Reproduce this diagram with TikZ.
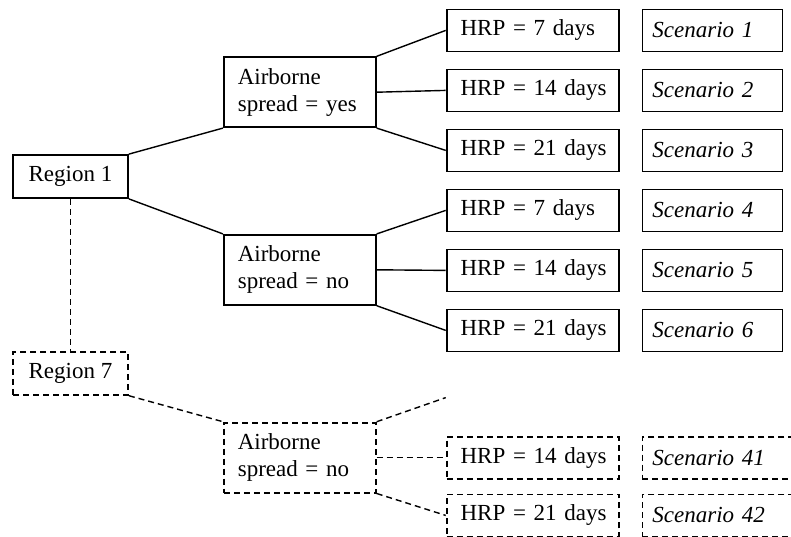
\documentclass[tikz,border=0pt]{standalone}
\usepackage{fontspec}
\setmainfont{Liberation Serif}
\usepackage{tikz}
\usetikzlibrary{positioning}
\tikzstyle{tree box}=[draw,line width=0.9pt,inner ysep=0pt,anchor=center,font=\fontsize{11.5}{13.5}\selectfont]
\tikzstyle{region box}=[tree box,minimum width=57.5pt,minimum height=21.5pt,inner xsep=0pt]
\tikzstyle{spread box}=[tree box,text width=62pt,inner xsep=7pt,minimum height=35pt,align=left]
\tikzstyle{hrp box}=[tree box,text width=72pt,inner xsep=7pt,minimum height=21pt,align=left]
\tikzstyle{scen box}=[tree box,text width=60pt,inner xsep=5pt,minimum height=21pt,align=left,font=\fontsize{11.5}{13.5}\selectfont\itshape]
\tikzstyle{tree edge}=[line width=0.7pt]
\tikzstyle{omitted}=[dash pattern=on 3pt off 2pt]
\newcommand{\branchnode}[3][]{
  \node [#1] (#2) {#3}
}

\begin{document}
\begin{tikzpicture}[node distance=8.1pt]
\useasboundingbox (0,0) rectangle (395.5pt,-268pt);
        \branchnode[region box,at={(35.25pt,-88.25pt)}]{reg1}{Region 1};
        \branchnode[spread box,above right=13pt and 47pt of reg1]{yes1}{Airborne\\spread = yes};
        \branchnode[spread box,below right=17.5pt and 47pt of reg1]{no1}{Airborne\\spread = no};
         \branchnode[hrp box,above right=2pt and 34.5pt of yes1]{h1}{HRP~=~7~days};
         \branchnode[hrp box,below=of h1]{h2}{HRP~=~14~days};
         \branchnode[hrp box,below=of h2]{h3}{HRP~=~21~days};
         \branchnode[hrp box,below=of h3]{h4}{HRP~=~7~days};
         \branchnode[hrp box,below=of h4]{h5}{HRP~=~14~days};
         \branchnode[hrp box,below=of h5]{h6}{HRP~=~21~days};
    \foreach \i in {1,...,6}{
      \branchnode[scen box,right=11pt of h\i]{s\i}{Scenario \i};
    }
      \draw[tree edge] (reg1.north east) -- (yes1.south west);
            \draw[tree edge] (reg1.south east) -- (no1.north west);
                  \draw[tree edge] (yes1.north east) -- (h1.west);
                        \draw[tree edge] (yes1.east) -- (h2.west);
                              \draw[tree edge] (yes1.south east) -- (h3.west);
                  \draw[tree edge] (no1.north east) -- (h4.west);
                        \draw[tree edge] (no1.east) -- (h5.west);
                              \draw[tree edge] (no1.south east) -- (h6.west);

% region 7, only partly drawn
\begin{scope}[tree box/.append style={omitted}]
\branchnode[region box,below=76pt of reg1]{reg7}{Region 7};
\branchnode[spread box,below right=13pt and 47pt of reg7]{no7}{Airborne\\spread = no};
\branchnode[hrp box,right=34.5pt of no7]{h41}{HRP~=~14~days};
\branchnode[hrp box,below=7pt of h41]{h42}{HRP~=~21~days};
\branchnode[scen box,text width=80pt,right=11pt of h41]{s41}{Scenario 41};
\branchnode[scen box,text width=80pt,right=11pt of h42]{s42}{Scenario 42};
\coordinate (up7) at ([yshift=30pt]h41.west);
\end{scope}
      \draw[tree edge,omitted] (reg1.south) -- (reg7.north);
      \draw[tree edge,omitted] (reg7.south east) -- (no7.north west);
            \draw[tree edge,omitted] (no7.north east) -- (up7);
                  \draw[tree edge,omitted] (no7.east) -- (h41.west);
                        \draw[tree edge,omitted] (no7.south east) -- (h42.west);

      \end{tikzpicture}
\end{document}
